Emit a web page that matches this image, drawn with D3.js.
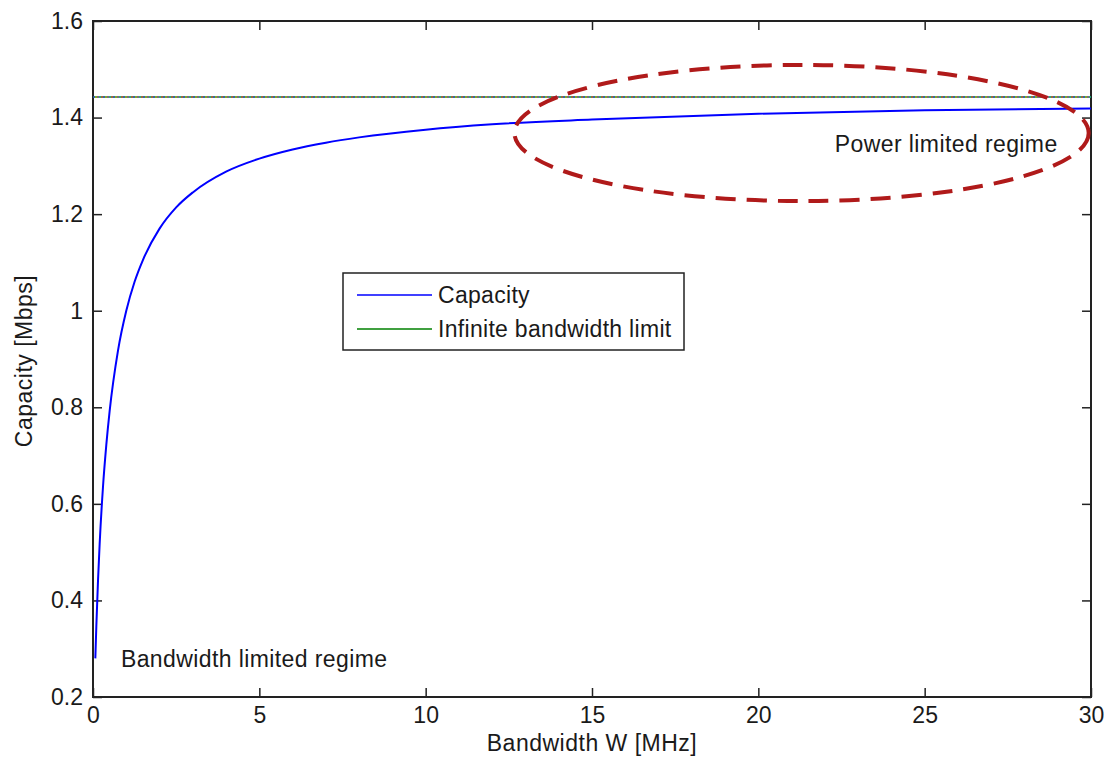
<!DOCTYPE html>
<html>
<head>
<meta charset="utf-8">
<script src="https://cdn.jsdelivr.net/npm/d3@7"></script>
<style>
  body { margin: 0; background: #fff; }
  text { font-family: Arial, "Liberation Sans", sans-serif; fill: #1a1a1a; }
</style>
</head>
<body>
<script>
const width = 1104;
const height = 763;

// bandwidth W [MHz] and capacity [Mbps]
const bandwidth = [0.07, 0.1, 0.15, 0.2, 0.3, 0.4, 0.5, 0.75, 1, 1.25, 1.5, 2, 2.5, 3, 4, 5, 6, 7, 8, 10, 12, 15, 20, 25, 30];
const capacity  = [0.28, 0.346, 0.44, 0.517, 0.635, 0.722, 0.792, 0.917, 1.0, 1.06, 1.105, 1.17, 1.214, 1.245, 1.288, 1.315, 1.334, 1.348, 1.359, 1.375, 1.386, 1.396, 1.408, 1.415, 1.419];
const limit = 1.4427;

const xTicks = [0, 5, 10, 15, 20, 25, 30];
const yTicks = [0.2, 0.4, 0.6, 0.8, 1, 1.2, 1.4, 1.6];
const seriesNames = ["Capacity", "Infinite bandwidth limit"];
const seriesColors = ["#0000ff", "#008000"];

const margin = {left: 93, right: 13, top: 21, bottom: 66};

let svg = d3.select("body").append("svg").attr("width", width).attr("height", height);

let x = d3.scaleLinear().domain([0, 30]).range([margin.left, width - margin.right]);
let y = d3.scaleLinear().domain([0.2, 1.6]).range([height - margin.bottom, margin.top]);

// axes, MATLAB style: ticks point inward on all four sides
function styleAxis(g) {
    g.select(".domain").remove();
    g.selectAll("line").attr("stroke", "#222").attr("stroke-width", 1.5);
    g.selectAll("text").attr("font-size", 23).attr("fill", "#1a1a1a");
}

svg.append("g")
    .attr("transform", `translate(0,${y(0.2)})`)
    .call(d3.axisBottom(x).tickValues(xTicks).tickSizeInner(-9).tickSizeOuter(0).tickPadding(10))
    .call(styleAxis);

svg.append("g")
    .attr("transform", `translate(0,${y(1.6)})`)
    .call(d3.axisTop(x).tickValues(xTicks).tickSizeInner(-9).tickSizeOuter(0).tickFormat(""))
    .call(styleAxis);

svg.append("g")
    .attr("transform", `translate(${x(0)},0)`)
    .call(d3.axisLeft(y).tickValues(yTicks).tickSizeInner(-9).tickSizeOuter(0).tickPadding(10).tickFormat(d3.format("~g")))
    .call(styleAxis);

svg.append("g")
    .attr("transform", `translate(${x(30)},0)`)
    .call(d3.axisRight(y).tickValues(yTicks).tickSizeInner(-9).tickSizeOuter(0).tickFormat(""))
    .call(styleAxis);

// frame
svg.append("rect")
    .attr("x", x(0)).attr("y", y(1.6))
    .attr("width", x(30) - x(0)).attr("height", y(0.2) - y(1.6))
    .attr("fill", "none").attr("stroke", "#222").attr("stroke-width", 2);

// infinite bandwidth limit: several overlapping lines give a speckled look
let limitLine = d3.line().x(d => x(d)).y(() => y(limit));
svg.append("path").datum([0, 30]).attr("d", limitLine)
    .attr("stroke", seriesColors[1]).attr("stroke-width", 2).attr("fill", "none").attr("opacity", 0.8);
const overlay = ["#4040ff", "#ff4040", "#20c0c0", "#c040c0", "#c0c020"];
overlay.forEach((c, i) => {
    svg.append("path").datum([0, 30]).attr("d", limitLine)
        .attr("stroke", c).attr("stroke-width", 2).attr("fill", "none")
        .attr("stroke-dasharray", "2,8").attr("stroke-dashoffset", i * 2)
        .attr("opacity", 0.55);
});

// capacity curve
let line = d3.line().x((d, i) => x(bandwidth[i])).y(d => y(d)).curve(d3.curveMonotoneX);
svg.append("path").datum(capacity).attr("d", line)
    .attr("stroke", seriesColors[0]).attr("stroke-width", 2).attr("fill", "none");

// power limited ellipse
const ell = {cx: 21.3, cy: 1.368, rx: 8.63, ry: 0.141};
svg.append("ellipse")
    .attr("cx", x(ell.cx)).attr("cy", y(ell.cy))
    .attr("rx", x(ell.rx) - x(0)).attr("ry", y(0.2) - y(0.2 + ell.ry))
    .attr("fill", "none").attr("stroke", "#b01a1a").attr("stroke-width", 4)
    .attr("stroke-dasharray", "20,11");

// annotations
svg.append("text").attr("x", x(0.84)).attr("y", y(0.262)).attr("font-size", 23)
    .attr("letter-spacing", 0.4).text("Bandwidth limited regime");
svg.append("text").attr("x", x(22.3)).attr("y", y(1.329)).attr("font-size", 23)
    .attr("letter-spacing", 0.4).text("Power limited regime");

// axis labels
svg.append("text").attr("x", (x(0) + x(30)) / 2).attr("y", 751)
    .attr("text-anchor", "middle").attr("font-size", 23).attr("letter-spacing", 0.5)
    .text("Bandwidth W [MHz]");
svg.append("text").attr("transform", `translate(32,${(y(0.2) + y(1.6)) / 2 + 2}) rotate(-90)`)
    .attr("text-anchor", "middle").attr("font-size", 23).attr("letter-spacing", 0.5)
    .text("Capacity [Mbps]");

// legend
let legend = svg.append("g").attr("transform", "translate(343,273)");
legend.append("rect").attr("width", 341).attr("height", 77)
    .attr("fill", "#fff").attr("stroke", "#222").attr("stroke-width", 1.5);
seriesNames.forEach((name, i) => {
    let ly = 22 + i * 34;
    legend.append("line").attr("x1", 14).attr("x2", 89).attr("y1", ly).attr("y2", ly)
        .attr("stroke", seriesColors[i]).attr("stroke-width", 1.5);
    legend.append("text").attr("x", 95).attr("y", ly + 8).attr("font-size", 23)
        .attr("letter-spacing", 0.3).text(name);
});
</script>
</body>
</html>
